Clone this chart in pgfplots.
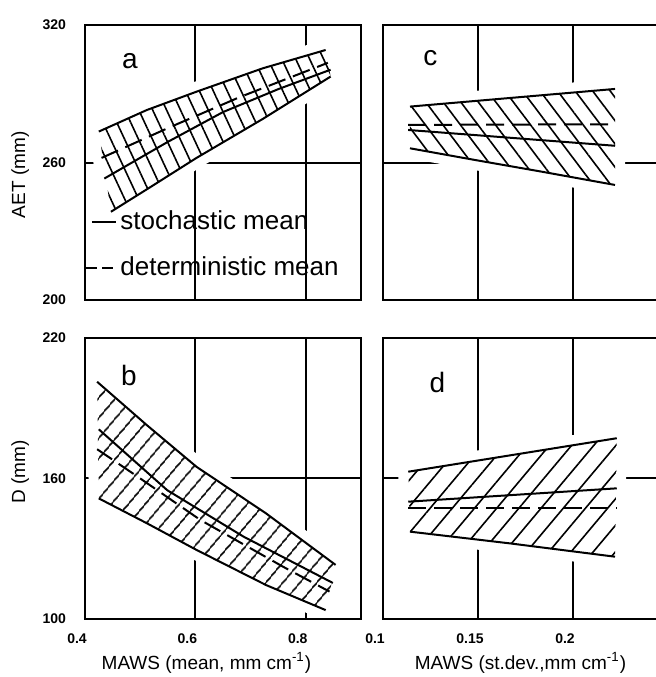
\documentclass[border=0pt]{standalone}
\usepackage{fontspec}
\setmainfont{Liberation Sans}
\usepackage{pgfplots}
\pgfplotsset{compat=1.18}
\usepackage{pgfplotstable}
\usetikzlibrary{patterns.meta}

% ---- panel a : AET vs MAWS mean
\pgfplotstableread{
x y
0.425 273.5
0.512 282.9
0.602 290.9
0.722 301.1
0.836 309.1
}\aUp
\pgfplotstableread{
x y
0.447 238.5
0.520 249.5
0.602 262.0
0.722 279.0
0.845 297.5
}\aLo
\pgfplotstableread{
x y
0.425 273.5
0.512 282.9
0.602 290.9
0.722 301.1
0.836 309.1
0.845 297.5
0.722 279.0
0.602 262.0
0.520 249.5
0.447 238.5
}\aBand
\pgfplotstableread{
x y
0.435 253.0
0.550 269.0
0.650 282.0
0.750 292.0
0.845 300.5
}\aSto
\pgfplotstableread{
x y
0.430 262.0
0.550 275.0
0.680 288.5
0.840 303.5
}\aDet
% ---- panel b : D vs MAWS mean
\pgfplotstableread{
x y
0.422 201.3
0.512 182.8
0.602 165.0
0.728 145.1
0.854 123.1
}\bUp
\pgfplotstableread{
x y
0.425 151.5
0.512 140.9
0.602 129.5
0.728 114.5
0.836 103.8
}\bLo
\pgfplotstableread{
x y
0.422 201.3
0.512 182.8
0.602 165.0
0.728 145.1
0.854 123.1
0.836 103.8
0.728 114.5
0.602 129.5
0.512 140.9
0.425 151.5
}\bBand
\pgfplotstableread{
x y
0.425 181.0
0.549 155.0
0.687 135.2
0.849 115.4
}\bSto
\pgfplotstableread{
x y
0.422 172.5
0.494 161.0
0.609 142.3
0.759 122.3
0.843 111.7
}\bDet
% ---- panel c : AET vs MAWS st.dev.
\pgfplotstableread{
x y
0.1142 284.4
0.2221 292.1
}\cUp
\pgfplotstableread{
x y
0.1142 266.2
0.1484 261.1
0.1835 256.0
0.2221 250.2
}\cLo
\pgfplotstableread{
x y
0.1142 284.4
0.2221 292.1
0.2221 250.2
0.1835 256.0
0.1484 261.1
0.1142 266.2
}\cBand
\pgfplotstableread{
x y
0.1132 274.2
0.2221 267.3
}\cSto
\pgfplotstableread{
x y
0.1132 276.4
0.2221 276.7
}\cDet
% ---- panel d : D vs MAWS st.dev.
\pgfplotstableread{
x y
0.1133 162.9
0.2230 177.2
}\dUp
\pgfplotstableread{
x y
0.1142 137.3
0.1667 132.3
0.2221 126.6
}\dLo
\pgfplotstableread{
x y
0.1133 162.9
0.2230 177.2
0.2221 126.6
0.1667 132.3
0.1142 137.3
}\dBand
\pgfplotstableread{
x y
0.1133 150.1
0.2230 155.8
}\dSto
\pgfplotstableread{
x y
0.1133 147.5
0.2230 147.5
}\dDet

\pgfplotsset{
  panel/.style={
    scale only axis,
    axis line style={line width=1pt},
    major tick length=0pt,
    tick style={draw=none},
    tick label style={font=\fontsize{7}{8}\selectfont\bfseries},
    /pgf/number format/assume math mode=true,
    xticklabel style={yshift=-4pt, xshift=-4pt},
    yticklabel style={xshift=-6pt},
    label style={font=\fontsize{9.5}{11}\selectfont},
  },
  halo/.style={fill=white, draw=white, line width=10pt, line join=round},
  bound/.style={black, line width=1pt},
  det/.style={black, line width=1pt, dash pattern=on 9pt off 4pt},
}
\tikzset{gridl/.style={black, line width=1pt}}
\newcommand{\letterfont}{\fontsize{14}{16}\selectfont}
\newcommand{\legfont}{\fontsize{13}{15}\selectfont}

\begin{document}
\begin{tikzpicture}

% ================= panel a
\begin{axis}[panel, at={(42.5pt,326pt)}, anchor=north west,
  width=138pt, height=137.5pt,
  xmin=0.4, xmax=0.9, ymin=200, ymax=320,
  xtick={0.4,0.6,0.8}, xticklabels={},
  ytick={200,260,320}, yticklabels={200,260,320},
  ylabel={AET (mm)},
  ylabel style={at={(axis description cs:-0.235,0.455)}, anchor=center}]
\draw[gridl] (axis cs:0.6,200) -- (axis cs:0.6,320);
\draw[gridl] (axis cs:0.8,200) -- (axis cs:0.8,320);
\draw[gridl] (axis cs:0.4,260) -- (axis cs:0.9,260);
\addplot[halo] table {\aBand} -- cycle;
\addplot[draw=none, pattern={Lines[angle=-65,distance=6.3pt,line width=0.8pt]}] table {\aBand} -- cycle;
\addplot[bound] table {\aUp};
\addplot[bound] table {\aLo};
\addplot[bound] table {\aSto};
\addplot[det] table {\aDet};
\draw[line width=1pt] (rel axis cs:0,0) rectangle (rel axis cs:1,1);
\node[font=\letterfont] at (rel axis cs:0.163,0.870) {a};
\draw[line width=1pt] (rel axis cs:0.025,0.284) -- (rel axis cs:0.112,0.284);
\node[anchor=west, inner sep=0pt, font=\legfont] at (rel axis cs:0.127,0.290) {stochastic mean};
\draw[line width=1pt] (rel axis cs:0.005,0.116) -- (rel axis cs:0.045,0.116);
\draw[line width=1pt] (rel axis cs:0.063,0.116) -- (rel axis cs:0.103,0.116);
\node[anchor=west, inner sep=0pt, font=\legfont] at (rel axis cs:0.127,0.122) {deterministic mean};
\end{axis}

% ================= panel c
\begin{axis}[panel, at={(191.5pt,326pt)}, anchor=north west,
  width=137.5pt, height=137.5pt,
  xmin=0.1, xmax=0.2447, ymin=200, ymax=320,
  xtick={0.1,0.15,0.2}, xticklabels={},
  ytick={200,260,320}, yticklabels={}]
\draw[gridl] (axis cs:0.15,200) -- (axis cs:0.15,320);
\draw[gridl] (axis cs:0.2,200) -- (axis cs:0.2,320);
\draw[gridl] (axis cs:0.1,260) -- (axis cs:0.2447,260);
\addplot[halo] table {\cBand} -- cycle;
\addplot[draw=none, pattern={Lines[angle=-53,distance=7pt,line width=0.8pt]}] table {\cBand} -- cycle;
\addplot[bound] table {\cUp};
\addplot[bound] table {\cLo};
\addplot[bound] table {\cSto};
\addplot[det] table {\cDet};
\draw[line width=1pt] (rel axis cs:0,0) rectangle (rel axis cs:1,1);
\node[font=\letterfont] at (rel axis cs:0.172,0.878) {c};
\end{axis}

% ================= panel b
\begin{axis}[panel, at={(42.5pt,169.5pt)}, anchor=north west,
  width=138pt, height=140.5pt,
  xmin=0.4, xmax=0.9, ymin=100, ymax=220,
  xtick={0.4,0.6,0.8}, xticklabels={0.4,0.6,0.8},
  ytick={100,160,220}, yticklabels={100,160,220},
  ylabel={D (mm)},
  ylabel style={at={(axis description cs:-0.235,0.523)}, anchor=center},
  xlabel={MAWS (mean, mm cm\textsuperscript{-1})},
  xlabel style={at={(axis description cs:0.44,-0.157)}, anchor=center}]
\draw[gridl] (axis cs:0.6,100) -- (axis cs:0.6,220);
\draw[gridl] (axis cs:0.8,100) -- (axis cs:0.8,220);
\draw[gridl] (axis cs:0.4,160) -- (axis cs:0.9,160);
\addplot[halo] table {\bBand} -- cycle;
\addplot[draw=none, pattern={Lines[angle=50,distance=6.5pt,line width=0.8pt]}] table {\bBand} -- cycle;
\addplot[bound] table {\bUp};
\addplot[bound] table {\bLo};
\addplot[bound] table {\bSto};
\addplot[det] table {\bDet};
\draw[line width=1pt] (rel axis cs:0,0) rectangle (rel axis cs:1,1);
\node[font=\letterfont] at (rel axis cs:0.159,0.868) {b};
\end{axis}

% ================= panel d
\begin{axis}[panel, at={(191.5pt,169.5pt)}, anchor=north west,
  width=137.5pt, height=140.5pt,
  xmin=0.1, xmax=0.2447, ymin=100, ymax=220,
  xtick={0.1,0.15,0.2}, xticklabels={0.1,0.15,0.2},
  ytick={100,160,220}, yticklabels={},
  xlabel={MAWS (st.dev.,mm cm\textsuperscript{-1})},
  xlabel style={at={(axis description cs:0.500,-0.157)}, anchor=center}]
\draw[gridl] (axis cs:0.15,100) -- (axis cs:0.15,220);
\draw[gridl] (axis cs:0.2,100) -- (axis cs:0.2,220);
\draw[gridl] (axis cs:0.1,160) -- (axis cs:0.2447,160);
\addplot[halo] table {\dBand} -- cycle;
\addplot[draw=none, pattern={Lines[angle=50,distance=8.5pt,line width=0.8pt]}] table {\dBand} -- cycle;
\addplot[bound] table {\dUp};
\addplot[bound] table {\dLo};
\addplot[bound] table {\dSto};
\addplot[det] table {\dDet};
\draw[line width=1pt] (rel axis cs:0,0) rectangle (rel axis cs:1,1);
\node[font=\letterfont] at (rel axis cs:0.198,0.843) {d};
\end{axis}

\pgfresetboundingbox
\path[use as bounding box] (0,0) rectangle (328pt,338.5pt);
\end{tikzpicture}
\end{document}
